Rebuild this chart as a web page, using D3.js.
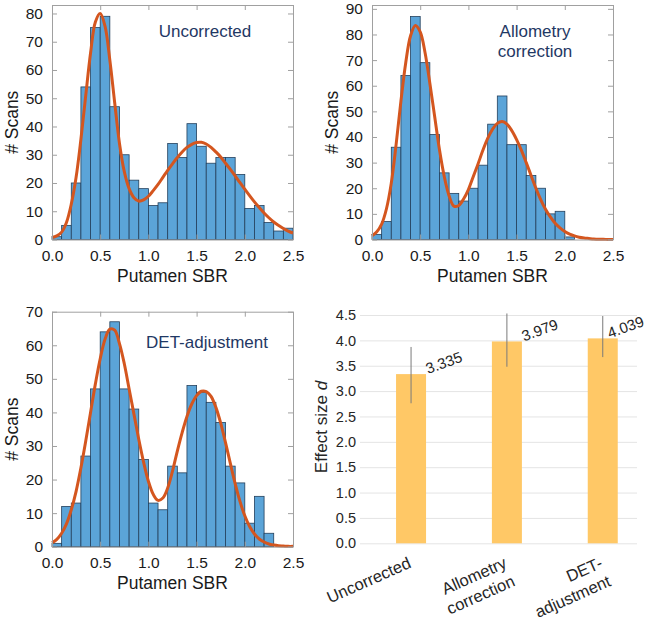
<!DOCTYPE html>
<html>
<head>
<meta charset="utf-8">
<script src="https://cdn.jsdelivr.net/npm/d3@7"></script>
<style>
  body { margin: 0; background: #fff; }
  svg { display: block; font-family: "Liberation Sans", Arial, sans-serif; }
</style>
</head>
<body>
<div id="chart"></div>
<script>
// Histogram data (bins of width 0.1 on Putamen SBR)
const binStarts = [0.0, 0.1, 0.2, 0.3, 0.4, 0.5, 0.6, 0.7, 0.8, 0.9, 1.0, 1.1, 1.2,
                   1.3, 1.4, 1.5, 1.6, 1.7, 1.8, 1.9, 2.0, 2.1, 2.2, 2.3, 2.4];
const binWidth = 0.1;

const uncorrectedCounts = [1, 5, 20, 54, 75, 79, 47, 30, 21, 18, 12, 13, 34,
                           29, 41, 33, 27, 29, 29, 23, 11, 12, 6, 3, 4];
const allometryCounts = [2, 7, 36, 64, 87, 69, 41, 26, 18, 15, 20, 29, 45,
                         56, 37, 37, 25, 20, 10, 11, 1, 0, 0, 0, 0];
const detCounts = [1, 12, 13, 27, 47, 64, 67, 47, 41, 26, 13, 11, 24,
                   22, 48, 46, 43, 37, 24, 19, 7, 15, 4, 0, 0];

// fitted curves
const curveX = [0.00, 0.05, 0.10, 0.15, 0.20, 0.25, 0.30, 0.35, 0.40, 0.45,
                0.50, 0.55, 0.60, 0.65, 0.70, 0.75, 0.80, 0.85, 0.90, 0.95,
                1.00, 1.05, 1.10, 1.15, 1.20, 1.25, 1.30, 1.35, 1.40, 1.45,
                1.50, 1.55, 1.60, 1.65, 1.70, 1.75, 1.80, 1.85, 1.90, 1.95,
                2.00, 2.05, 2.10, 2.15, 2.20, 2.25, 2.30, 2.35, 2.40, 2.45, 2.50];
const uncorrectedFit = [0.7, 1.3, 2.6, 6, 12.5, 22, 35.5, 51, 66, 77,
                        80, 75.5, 63.5, 48.5, 34, 24, 18, 14.8, 13.6, 14,
                        15.3, 17.3, 19.5, 22, 24.5, 26.8, 29, 31, 32.6, 33.7,
                        34.3, 34.4, 33.8, 32.6, 31, 29.2, 27, 24.8, 22.5, 20.1,
                        17.8, 15.5, 13.3, 11.3, 9.4, 7.7, 6.2, 5, 3.9, 3, 2.3];
const allometryFit = [1.5, 3, 6, 12, 22, 37, 54, 69, 79.5, 83.5,
                      81, 73, 61, 48, 35, 24.5, 17, 13, 13.3, 15.8,
                      19.5, 24.5, 29.5, 34.8, 39.5, 43, 45.3, 46, 45, 42.5,
                      39, 34.8, 30, 25, 20, 15.6, 11.8, 8.8, 6.3, 4.5,
                      3.1, 2.1, 1.4, 0.9, 0.6, 0.4, 0.2, 0.1, 0.1, 0, 0];
const detFit = [1.2, 2.2, 4, 6.8, 11, 16.5, 23.5, 31.5, 40, 48.5,
                56, 61.8, 64.8, 64.5, 60.5, 54.5, 47, 39.5, 32, 25.2,
                19.5, 15.6, 13.8, 14.5, 17.5, 22.5, 28.5, 34, 38.8, 42.5,
                45, 46.3, 46.2, 44.8, 41.5, 36.8, 31, 24.8, 18.8, 13.5,
                9.2, 6, 3.8, 2.3, 1.4, 0.8, 0.5, 0.3, 0.2, 0.1, 0.1];

const sbrTicks = [0, 0.5, 1.0, 1.5, 2.0, 2.5];

// Effect size bar chart data
const effectCategories = ["Uncorrected", "Allometry correction", "DET- adjustment"];
const effectLabelLines = [["Uncorrected"], ["Allometry", "correction"], ["DET-", "adjustment"]];
const effectValues = [3.335, 3.979, 4.039];
const effectLow = [2.76, 3.48, 3.67];
const effectHigh = [3.87, 4.53, 4.48];
const effectTicks = [0, 0.5, 1.0, 1.5, 2.0, 2.5, 3.0, 3.5, 4.0, 4.5];

const width = 646, height = 623;

const svg = d3.select("#chart")
  .append("svg")
  .attr("width", width)
  .attr("height", height);

svg.append("rect").attr("width", width).attr("height", height).attr("fill", "#fff");

// Histogram panels
const panels = [
  {left: 52, right: 293, top: 5, bottom: 239.5, yMax: 83, yTicks: d3.range(0, 81, 10),
   counts: uncorrectedCounts, fit: uncorrectedFit, label: ["Uncorrected"], labelX: 205, labelY: 37},
  {left: 372, right: 613, top: 5, bottom: 239.5, yMax: 91.5, yTicks: d3.range(0, 91, 10),
   counts: allometryCounts, fit: allometryFit, label: ["Allometry", "correction"], labelX: 535, labelY: 37},
  {left: 52, right: 293, top: 311.7, bottom: 546.7, yMax: 70, yTicks: d3.range(0, 71, 10),
   counts: detCounts, fit: detFit, label: ["DET-adjustment"], labelX: 207, labelY: 348}
];

const boxColor = "#a0a0a0";

panels.forEach(p => {
  const x = d3.scaleLinear().domain([0, 2.5]).range([p.left, p.right]);
  const y = d3.scaleLinear().domain([0, p.yMax]).range([p.bottom, p.top]);
  const g = svg.append("g");

  // bars
  g.selectAll(".bin")
    .data(binStarts.map((s, i) => ({start: s, count: p.counts[i]})).filter(d => d.count > 0))
    .enter()
    .append("rect")
    .attr("class", "bin")
    .attr("x", d => x(d.start))
    .attr("y", d => y(d.count))
    .attr("width", d => x(d.start + binWidth) - x(d.start))
    .attr("height", d => y(0) - y(d.count))
    .attr("fill", "#5ba4d8")
    .attr("stroke", "#24405c")
    .attr("stroke-width", 0.8);

  // fitted curve
  const line = d3.line()
    .x(d => x(d[0]))
    .y(d => y(d[1]))
    .curve(d3.curveCatmullRom.alpha(0.5));
  g.append("path")
    .datum(curveX.map((v, i) => [v, p.fit[i]]))
    .attr("d", line)
    .attr("fill", "none")
    .attr("stroke", "#d4561f")
    .attr("stroke-width", 3);

  // axes, ticks pointing inward
  const left = g.append("g")
    .attr("transform", `translate(${p.left},0)`)
    .call(d3.axisLeft(y).tickValues(p.yTicks).tickFormat(d3.format("d")).tickSizeInner(-5).tickSizeOuter(0).tickPadding(9));
  const bottom = g.append("g")
    .attr("transform", `translate(0,${p.bottom})`)
    .call(d3.axisBottom(x).tickValues(sbrTicks).tickFormat(d3.format(".1f")).tickSizeInner(-5).tickSizeOuter(0).tickPadding(10.5));
  const right = g.append("g")
    .attr("transform", `translate(${p.right},0)`)
    .call(d3.axisRight(y).tickValues(p.yTicks).tickFormat("").tickSizeInner(-5).tickSizeOuter(0));
  const top = g.append("g")
    .attr("transform", `translate(0,${p.top})`)
    .call(d3.axisTop(x).tickValues(sbrTicks).tickFormat("").tickSizeInner(-5).tickSizeOuter(0));

  [left, bottom, right, top].forEach(a => {
    a.selectAll("path, line").attr("stroke", boxColor);
    a.selectAll("text").attr("fill", "#1a1a1a").style("font-size", "15.5px").style("font-family", "Liberation Sans, Arial, sans-serif");
  });

  // axis titles
  g.append("text")
    .attr("x", (p.left + p.right) / 2)
    .attr("y", p.bottom + 42.5)
    .attr("text-anchor", "middle")
    .style("font-size", "17.5px")
    .attr("fill", "#1a1a1a")
    .text("Putamen SBR");

  g.append("text")
    .attr("transform", `translate(${p.left - 34},${(p.top + p.bottom) / 2}) rotate(-90)`)
    .attr("text-anchor", "middle")
    .style("font-size", "17.5px")
    .attr("fill", "#1a1a1a")
    .text("# Scans");

  // panel label
  const lab = g.append("text")
    .attr("text-anchor", "middle")
    .style("font-size", "17px")
    .attr("fill", "#1f3864");
  p.label.forEach((t, i) => {
    lab.append("tspan").attr("x", p.labelX).attr("y", p.labelY + i * 20).text(t);
  });
});

// Effect size bar chart
const bx = d3.scaleBand()
  .domain(effectCategories)
  .range([362.5, 651.3])
  .paddingInner(0.687)
  .paddingOuter(0.35);

const by = d3.scaleLinear()
  .domain([0, 4.5])
  .range([543.3, 315]);

const gridLeft = 360, gridRight = 637;

const yAxis = svg.append("g")
  .attr("transform", `translate(${gridLeft},0)`)
  .call(d3.axisLeft(by).tickValues(effectTicks).tickFormat(d3.format(".1f"))
    .tickSizeInner(-(gridRight - gridLeft)).tickSizeOuter(0).tickPadding(4));
yAxis.select(".domain").remove();
yAxis.selectAll("line").attr("stroke", "#e4e4e4");
yAxis.selectAll("text").attr("fill", "#262626").style("font-size", "14.5px").style("font-family", "Liberation Sans, Arial, sans-serif");

// bars
svg.selectAll(".effect-bar")
  .data(effectCategories)
  .enter()
  .append("rect")
  .attr("class", "effect-bar")
  .attr("x", d => bx(d))
  .attr("y", (d, i) => by(effectValues[i]))
  .attr("width", bx.bandwidth())
  .attr("height", (d, i) => by(0) - by(effectValues[i]))
  .attr("fill", "#ffc866");

// error bars
svg.selectAll(".err")
  .data(effectCategories)
  .enter()
  .append("line")
  .attr("class", "err")
  .attr("x1", d => bx(d) + bx.bandwidth() / 2)
  .attr("x2", d => bx(d) + bx.bandwidth() / 2)
  .attr("y1", (d, i) => by(effectLow[i]))
  .attr("y2", (d, i) => by(effectHigh[i]))
  .attr("stroke", "#7a7a7a")
  .attr("stroke-width", 1);

// value labels, kept inside the right edge like the original
const labelAngle = 20;
svg.selectAll(".val")
  .data(effectCategories)
  .enter()
  .append("text")
  .attr("class", "val")
  .style("font-size", "15px")
  .attr("fill", "#262626")
  .text((d, i) => effectValues[i].toFixed(3))
  .each(function (d, i) {
    const len = this.getComputedTextLength() * Math.cos(labelAngle * Math.PI / 180);
    const lx = Math.min(bx(d) + bx.bandwidth() + 2, width - 1 - len);
    d3.select(this).attr("transform", `translate(${lx},${by(effectValues[i])}) rotate(${-labelAngle})`);
  });

// category labels
const cats = svg.selectAll(".cat")
  .data(effectCategories)
  .enter()
  .append("text")
  .attr("class", "cat")
  .attr("transform", d => `translate(${bx(d) + bx.bandwidth() / 2 + 1},567) rotate(-24)`)
  .attr("text-anchor", "end")
  .style("font-size", "16.5px")
  .attr("fill", "#262626");

cats.each(function (d, i) {
  effectLabelLines[i].forEach((t, j) => {
    d3.select(this).append("tspan")
      .attr("x", 0)
      .attr("y", j * 20)
      .text(t);
  });
});

// y title
const yTitle = svg.append("text")
  .attr("transform", `translate(327,427) rotate(-90)`)
  .attr("text-anchor", "middle")
  .style("font-size", "17px")
  .attr("fill", "#262626");
yTitle.append("tspan").text("Effect size ");
yTitle.append("tspan").style("font-style", "italic").text("d");
</script>
</body>
</html>
